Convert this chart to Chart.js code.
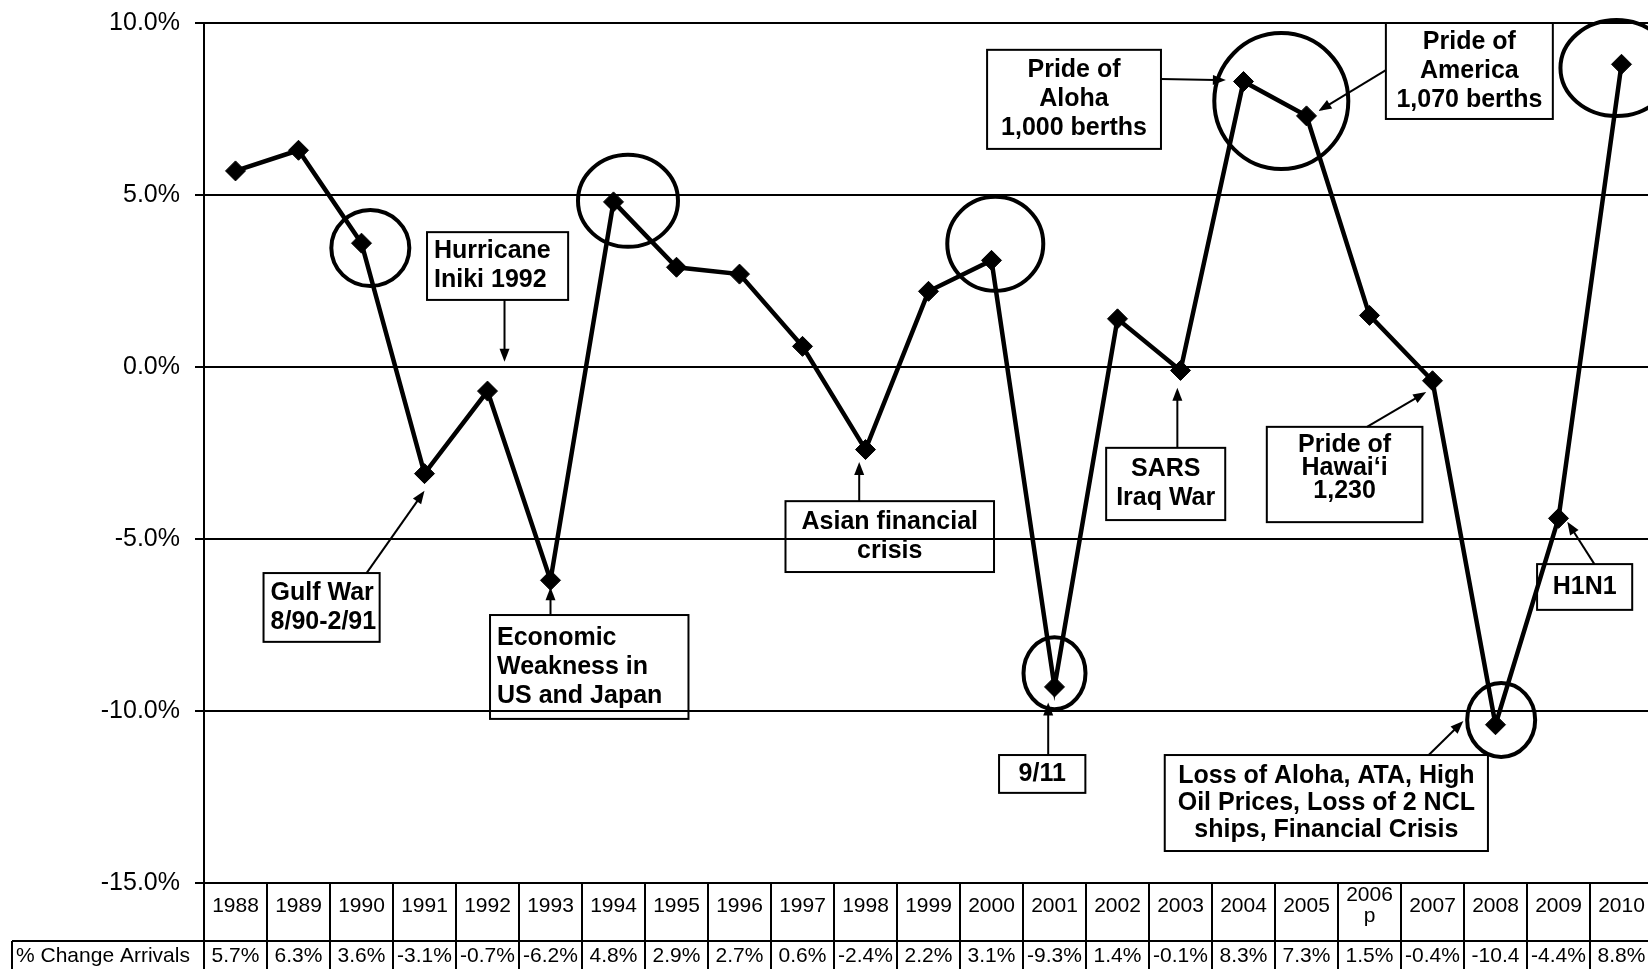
<!DOCTYPE html>
<html>
<head>
<meta charset="utf-8">
<title>% Change Arrivals</title>
<script src="https://cdn.jsdelivr.net/npm/chart.js@4.4.1/dist/chart.umd.min.js"></script>
<style>
    html, body { margin: 0; padding: 0; background: #fff; overflow: hidden; }
    #wrap { position: relative; width: 1664px; height: 969px; }
</style>
</head>
<body>
<div id="wrap"><canvas id="arrivalsChart"></canvas></div>
<script>
const years = ["1988", "1989", "1990", "1991", "1992", "1993", "1994", "1995", "1996", "1997",
    "1998", "1999", "2000", "2001", "2002", "2003", "2004", "2005", ["2006", "p"], "2007",
    "2008", "2009", "2010"];
const pctChange = [5.7, 6.3, 3.6, -3.1, -0.7, -6.2, 4.8, 2.9, 2.7, 0.6,
    -2.4, 2.2, 3.1, -9.3, 1.4, -0.1, 8.3, 7.3, 1.5, -0.4,
    -10.4, -4.4, 8.8];
const yMin = -15;
const yMax = 10;
const yStep = 5;
const rowHeader = "% Change Arrivals";

// callout boxes: box = [x1, y1, x2, y2] and arrow = [fromX, fromY, toX, toY] in category index / % units
const callouts = [
    { text: ["Hurricane", "Iniki 1992"], box: [3.04, 3.92, 5.28, 1.95], align: "left", arrow: [4.27, 1.95, 4.27, 0.15] },
    { text: ["Gulf War", "8/90-2/91"], box: [0.445, -5.99, 2.288, -7.99], align: "left", arrow: [2.08, -5.99, 3.0, -3.6] },
    { text: ["Economic", "Weakness in", "US and Japan"], box: [4.04, -7.21, 7.19, -10.23], align: "left", arrow: [5.0, -7.21, 5.0, -6.4] },
    { text: ["Asian financial", "crisis"], box: [8.73, -3.9, 12.04, -5.96], arrow: [9.9, -3.9, 9.9, -2.76] },
    { text: ["9/11"], box: [12.12, -11.28, 13.49, -12.38], arrow: [12.9, -11.28, 12.9, -9.75] },
    { text: ["SARS", "Iraq War"], box: [13.82, -2.35, 15.71, -4.45], arrow: [14.95, -2.35, 14.95, -0.6] },
    { text: ["Pride of", "Hawai\u2018i", "1,230"], box: [16.37, -1.74, 18.84, -4.51], lineHeight: 23, dy: -6, arrow: [17.96, -1.74, 18.9, -0.73] },
    { text: ["H1N1"], box: [20.66, -5.73, 22.17, -7.06], arrow: [21.57, -5.73, 21.14, -4.5] },
    { text: ["Loss of Aloha, ATA, High", "Oil Prices, Loss of 2 NCL", "ships, Financial Crisis"], box: [14.75, -11.28, 19.88, -14.07], lineHeight: 27, arrow: [18.94, -11.28, 19.49, -10.29] },
    { text: ["Pride of", "Aloha", "1,000 berths"], box: [11.93, 9.22, 14.69, 6.34], arrow: [14.69, 8.37, 15.72, 8.34] },
    { text: ["Pride of", "America", "1,070 berths"], box: [18.26, 10.0, 20.91, 7.21], arrow: [18.26, 8.63, 17.19, 7.44] }
];

// hand drawn rings round the key years
const rings = [
    { x: 2.14, y: 3.46, rx: 39, ry: 38 },
    { x: 6.23, y: 4.83, rx: 50, ry: 46 },
    { x: 12.06, y: 3.58, rx: 48, ry: 47 },
    { x: 16.6, y: 7.73, rx: 67, ry: 68 },
    { x: 21.92, y: 8.69, rx: 56, ry: 48 },
    { x: 13.0, y: -8.9, rx: 31, ry: 36 },
    { x: 20.09, y: -10.26, rx: 34, ry: 37 }
];

const FONT = "'Liberation Sans', Arial, sans-serif";
Chart.defaults.font.family = FONT;
Chart.defaults.color = "#000";

function drawArrow(ctx, x1, y1, x2, y2) {
    const ang = Math.atan2(y2 - y1, x2 - x1);
    const len = 13, half = 5;
    ctx.beginPath();
    ctx.moveTo(x1, y1);
    ctx.lineTo(x2 - Math.cos(ang) * len * 0.8, y2 - Math.sin(ang) * len * 0.8);
    ctx.stroke();
    ctx.beginPath();
    ctx.moveTo(x2, y2);
    ctx.lineTo(x2 - Math.cos(ang) * len - Math.sin(ang) * half, y2 - Math.sin(ang) * len + Math.cos(ang) * half);
    ctx.lineTo(x2 - Math.cos(ang) * len + Math.sin(ang) * half, y2 - Math.sin(ang) * len - Math.cos(ang) * half);
    ctx.closePath();
    ctx.fill();
}

const annotations = {
    id: "annotations",
    afterDatasetsDraw(chart) {
        const { ctx, scales: { x, y } } = chart;
        ctx.save();
        ctx.strokeStyle = "#000";
        ctx.fillStyle = "#000";

        ctx.lineWidth = 4;
        rings.forEach(r => {
            ctx.beginPath();
            ctx.ellipse(x.getPixelForValue(r.x), y.getPixelForValue(r.y), r.rx, r.ry, 0, 0, Math.PI * 2);
            ctx.stroke();
        });

        ctx.font = "bold 25px " + FONT;
        ctx.textBaseline = "middle";
        callouts.forEach(c => {
            const left = x.getPixelForValue(c.box[0]);
            const top = y.getPixelForValue(c.box[1]);
            const right = x.getPixelForValue(c.box[2]);
            const bottom = y.getPixelForValue(c.box[3]);
            ctx.lineWidth = 2;
            ctx.strokeRect(left, top, right - left, bottom - top);

            const lh = c.lineHeight || 29;
            const mid = (top + bottom) / 2 + (c.dy || 0);
            const firstY = mid - (c.text.length - 1) * lh / 2;
            ctx.textAlign = c.align === "left" ? "left" : "center";
            const tx = c.align === "left" ? left + 7 : (left + right) / 2;
            c.text.forEach((t, i) => ctx.fillText(t, tx, firstY + i * lh));

            const a = c.arrow;
            ctx.lineWidth = 2;
            drawArrow(ctx, x.getPixelForValue(a[0]), y.getPixelForValue(a[1]),
                x.getPixelForValue(a[2]), y.getPixelForValue(a[3]));
        });
        ctx.restore();
    }
};

// second row of the data table (values), under the year labels from the x axis
const valueRow = {
    id: "valueRow",
    afterDraw(chart) {
        const { ctx, scales: { x } } = chart;
        const rowTop = x.top + 58;
        const rowMid = rowTop + 15;
        const cell = x.width / pctChange.length;
        ctx.save();
        ctx.strokeStyle = "#000";
        ctx.lineWidth = 2;
        ctx.beginPath();
        ctx.moveTo(12, rowTop);
        ctx.lineTo(x.right, rowTop);
        ctx.moveTo(12, rowTop);
        ctx.lineTo(12, x.bottom);
        ctx.stroke();

        ctx.fillStyle = "#000";
        ctx.font = "21px " + FONT;
        ctx.textBaseline = "middle";
        ctx.textAlign = "left";
        ctx.fillText(rowHeader, 16, rowMid);
        ctx.textAlign = "center";
        pctChange.forEach((v, i) => {
            let txt = v.toFixed(1) + "%";
            // excel drops what does not fit in the cell
            if (ctx.measureText(txt).width > cell - 4) txt = v.toFixed(1);
            ctx.fillText(txt, x.getPixelForValue(i), rowMid);
        });
        ctx.restore();
    }
};

new Chart(document.getElementById("arrivalsChart"), {
    type: "line",
    data: {
        labels: years,
        datasets: [{
            label: rowHeader,
            data: pctChange,
            borderColor: "#000",
            borderWidth: 4.5,
            pointStyle: "rectRot",
            pointRadius: 10,
            pointBackgroundColor: "#000",
            pointBorderColor: "#000",
            pointBorderWidth: 1,
            tension: 0
        }]
    },
    options: {
        responsive: true,
        maintainAspectRatio: false,
        animation: false,
        layout: { padding: { top: 23, right: 0, bottom: 0, left: 0 } },
        plugins: { legend: { display: false }, tooltip: { enabled: false } },
        scales: {
            x: {
                offset: true,
                grid: { offset: true, drawOnChartArea: false, drawTicks: true, tickLength: 86, color: "#000", lineWidth: 2 },
                border: { display: true, color: "#000", width: 2 },
                ticks: {
                    color: "#000",
                    font: { size: 21, lineHeight: 1 },
                    padding: -73.5,
                    crossAlign: "center",
                    maxRotation: 0,
                    autoSkip: false
                },
                afterFit(s) { s.height = 86; s.paddingLeft = 0; s.paddingRight = 0; }
            },
            y: {
                min: yMin,
                max: yMax,
                ticks: {
                    stepSize: yStep,
                    color: "#000",
                    font: { size: 25 },
                    padding: 15,
                    callback: v => v.toFixed(1) + "%"
                },
                grid: { color: "#000", lineWidth: 2, tickLength: 9 },
                border: { display: true, color: "#000", width: 2 },
                afterFit(s) { s.width = 204; s.paddingTop = 0; s.paddingBottom = 0; }
            }
        }
    },
    plugins: [annotations, valueRow]
});
</script>
</body>
</html>
